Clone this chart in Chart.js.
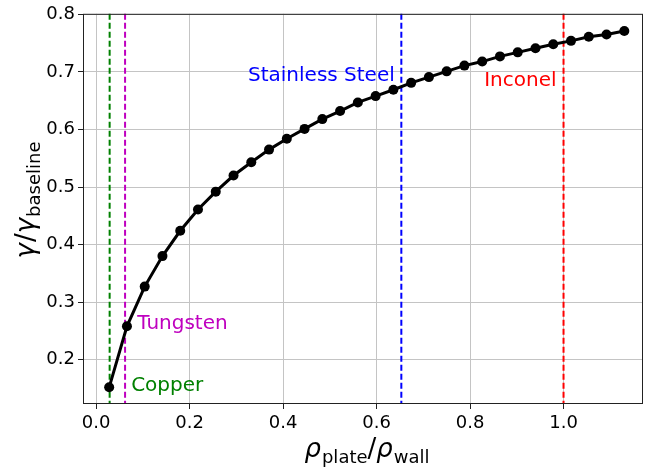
<!DOCTYPE html>
<html>
<head>
<meta charset="utf-8">
<script src="https://cdn.jsdelivr.net/npm/chart.js@4"></script>
<style>
  html, body { margin: 0; padding: 0; background: #fff; }
  canvas { display: block; }
</style>
</head>
<body>
<canvas id="chart" width="652" height="467"></canvas>
<script>
// rho_plate / rho_wall
const RATIOS = [0.028, 0.066, 0.104, 0.142, 0.180, 0.218, 0.256, 0.294, 0.332, 0.370,
  0.408, 0.446, 0.484, 0.522, 0.560, 0.598, 0.636, 0.674, 0.712, 0.750,
  0.788, 0.826, 0.864, 0.902, 0.940, 0.978, 1.016, 1.054, 1.092, 1.130];

// gamma / gamma_baseline
const GAMMA = [0.152, 0.258, 0.327, 0.380, 0.424, 0.461, 0.492, 0.520, 0.543, 0.565,
  0.584, 0.601, 0.618, 0.632, 0.647, 0.658, 0.669, 0.681, 0.691, 0.701,
  0.711, 0.718, 0.727, 0.734, 0.741, 0.748, 0.754, 0.761, 0.765, 0.771];

// Materials marked with vertical lines
const MATERIALS = ["Copper", "Tungsten", "Stainless Steel", "Inconel"];
const MATERIAL_RATIOS = [0.029, 0.062, 0.653, 1.0];
const MATERIAL_COLORS = ["#008000", "#bf00bf", "#0000ff", "#ff0000"];
// where each name sits (data coords) and which side of it is the anchor
const LABEL_X = [0.075, 0.088, 0.639, 0.985];
const LABEL_Y = [0.154, 0.263, 0.694, 0.684];
const LABEL_ALIGN = ["left", "left", "right", "right"];

const X_TICKS_STEP = 0.2;
const Y_TICKS_STEP = 0.1;

const FONT = "'DejaVu Sans', sans-serif";

// draw "main" + subscript, starting at x, on baseline y
function drawSubText(ctx, main, sub, x, y) {
  ctx.font = "italic 26px " + FONT;
  ctx.fillText(main, x, y);
  const w = ctx.measureText(main).width;
  ctx.font = "18px " + FONT;
  ctx.fillText(sub, x + w + 1, y + 6);
  return w + 1 + ctx.measureText(sub).width;
}

function measureSubText(ctx, main, sub) {
  ctx.font = "italic 26px " + FONT;
  const w = ctx.measureText(main).width;
  ctx.font = "18px " + FONT;
  return w + 1 + ctx.measureText(sub).width;
}

function drawTitle(ctx, parts, cx, y) {
  let total = 0;
  parts.forEach(([m, s]) => { total += measureSubText(ctx, m, s); });
  // slash between the two parts
  ctx.font = "26px " + FONT;
  const slashW = ctx.measureText("/").width;
  total += slashW;
  let x = cx - total / 2;
  x += drawSubText(ctx, parts[0][0], parts[0][1], x, y);
  ctx.font = "26px " + FONT;
  ctx.fillText("/", x, y);
  x += slashW;
  drawSubText(ctx, parts[1][0], parts[1][1], x, y);
}

const overlayPlugin = {
  id: "overlay",
  beforeDatasetsDraw(chart) {
    const { ctx, chartArea, scales } = chart;
    ctx.save();
    MATERIAL_RATIOS.forEach((r, i) => {
      const px = scales.x.getPixelForValue(r);
      ctx.strokeStyle = MATERIAL_COLORS[i];
      ctx.lineWidth = 2;
      ctx.setLineDash([6, 3]);
      ctx.beginPath();
      ctx.moveTo(px, chartArea.top);
      ctx.lineTo(px, chartArea.bottom);
      ctx.stroke();
    });
    ctx.restore();
  },
  afterDraw(chart) {
    const { ctx, chartArea, scales } = chart;
    ctx.save();

    // material names
    ctx.font = "20px " + FONT;
    ctx.textBaseline = "middle";
    MATERIALS.forEach((name, i) => {
      ctx.fillStyle = MATERIAL_COLORS[i];
      ctx.textAlign = LABEL_ALIGN[i];
      ctx.fillText(name, scales.x.getPixelForValue(LABEL_X[i]), scales.y.getPixelForValue(LABEL_Y[i]));
    });

    // frame
    ctx.strokeStyle = "#222";
    ctx.lineWidth = 1;
    ctx.setLineDash([]);
    ctx.strokeRect(chartArea.left + 0.5, chartArea.top + 0.5,
      chartArea.right - chartArea.left - 1, chartArea.bottom - chartArea.top - 1);

    // axis titles
    ctx.fillStyle = "#000";
    ctx.textAlign = "left";
    ctx.textBaseline = "alphabetic";
    drawTitle(ctx, [["ρ", "plate"], ["ρ", "wall"]], 367, 457);

    ctx.translate(34, 200);
    ctx.rotate(-Math.PI / 2);
    drawTitle(ctx, [["γ", ""], ["γ", "baseline"]], 0, 0);
    ctx.restore();
  }
};

document.addEventListener("DOMContentLoaded", () => {
  const points = RATIOS.map((x, i) => ({ x, y: GAMMA[i] }));

  new Chart(document.getElementById("chart"), {
    type: "scatter",
    data: {
      datasets: [{
        data: points,
        showLine: true,
        borderColor: "#000",
        backgroundColor: "#000",
        borderWidth: 3,
        pointBorderWidth: 0,
        pointRadius: 5,
        pointHoverRadius: 5
      }]
    },
    options: {
      responsive: false,
      animation: false,
      events: [],
      layout: { padding: { left: 0, top: 11, right: 9, bottom: 0 } },
      plugins: { legend: { display: false }, tooltip: { enabled: false } },
      scales: {
        x: {
          type: "linear",
          min: -0.028,
          max: 1.17,
          afterFit: (s) => { s.height = 63; },
          grid: { color: "#c4c4c4", lineWidth: 1, tickLength: 5, tickColor: "#222" },
          border: { display: false },
          ticks: {
            stepSize: X_TICKS_STEP,
            includeBounds: false,
            padding: 4,
            color: "#000",
            font: { family: FONT, size: 18 },
            maxRotation: 0,
            callback: (v) => v.toFixed(1)
          }
        },
        y: {
          type: "linear",
          min: 0.123,
          max: 0.801,
          afterFit: (s) => { s.width = 83; },
          grid: { color: "#c4c4c4", lineWidth: 1, tickLength: 5, tickColor: "#222" },
          border: { display: false },
          ticks: {
            stepSize: Y_TICKS_STEP,
            includeBounds: false,
            padding: 3,
            color: "#000",
            font: { family: FONT, size: 18 },
            callback: (v) => v.toFixed(1)
          }
        }
      }
    },
    plugins: [overlayPlugin]
  });
});
</script>
</body>
</html>
